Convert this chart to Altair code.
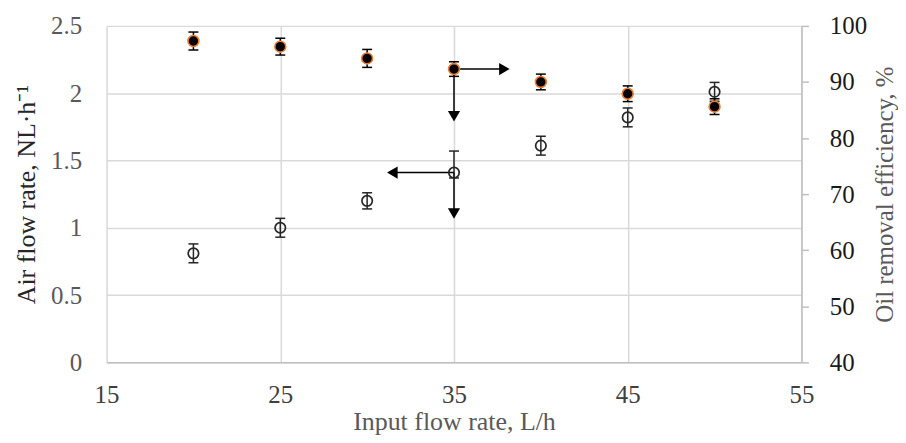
import altair as alt
import pandas as pd

# ---- data ----
flow = [20, 25, 30, 35, 40, 45, 50]
air_rate = [0.81, 1.00, 1.20, 1.41, 1.61, 1.82, 2.01]
air_err_low = [0.07, 0.07, 0.06, 0.04, 0.07, 0.07, 0.07]
air_err_high = [0.07, 0.07, 0.06, 0.16, 0.07, 0.07, 0.07]
efficiency = [97.3, 96.3, 94.2, 92.3, 90.0, 87.9, 85.6]
eff_err = [1.6, 1.5, 1.6, 1.3, 1.4, 1.4, 1.4]

x_ticks = [15, 25, 35, 45, 55]
air_ticks = [0, 0.5, 1, 1.5, 2, 2.5]
eff_ticks = [40, 50, 60, 70, 80, 90, 100]

# annotation arrows, in data coordinates
arrow_start_x = 35
air_arrow_y = 1.41
air_arrow_ends_x = [31.45, 35]
air_arrow_ends_y = [1.41, 1.106]
eff_arrow_y = 92.3
eff_arrow_ends_x = [37.9, 35]
eff_arrow_ends_y = [92.3, 83.9]

FONT = "Liberation Serif"
FS = 25
TFS = 26

air_df = pd.DataFrame({
    "flow": flow,
    "air": air_rate,
    "lo": [v - e for v, e in zip(air_rate, air_err_low)],
    "hi": [v + e for v, e in zip(air_rate, air_err_high)],
})
eff_df = pd.DataFrame({
    "flow": flow,
    "eff": efficiency,
    "lo": [v - e for v, e in zip(efficiency, eff_err)],
    "hi": [v + e for v, e in zip(efficiency, eff_err)],
})
air_arrows = pd.DataFrame({
    "x": [arrow_start_x, arrow_start_x],
    "x2": air_arrow_ends_x,
    "y": [air_arrow_y, air_arrow_y],
    "y2": air_arrow_ends_y,
    "dir": ["left", "down"],
})
eff_arrows = pd.DataFrame({
    "x": [arrow_start_x, arrow_start_x],
    "x2": eff_arrow_ends_x,
    "y": [eff_arrow_y, eff_arrow_y],
    "y2": eff_arrow_ends_y,
    "dir": ["right", "down"],
})

W, H = 698, 338

x_scale = alt.Scale(domain=[15, 55], nice=False, zero=False)
x_axis = alt.Axis(
    values=x_ticks, grid=True, gridColor="#d9d9d9", gridWidth=1.5,
    domain=True, domainColor="#bfbfbf", domainWidth=1.5, ticks=False,
    labelFlush=False, labelOverlap=False, labelPadding=20,
    labelFont=FONT, labelFontSize=FS, labelColor="#404040",
    title="Input flow rate, L/h", titleFont=FONT, titleFontSize=TFS,
    titleFontWeight="normal", titleColor="#595959",
    titleX=W / 2, titleY=67, titleBaseline="alphabetic", titleAlign="center",
)

air_scale = alt.Scale(domain=[0, 2.5], nice=False, zero=False)
air_axis = alt.Axis(
    values=air_ticks, format="~g", grid=True, gridColor="#d9d9d9", gridWidth=1.5,
    domain=False, ticks=False, labelPadding=25,
    labelFont=FONT, labelFontSize=FS, labelColor="#595959",
    title="Air flow rate, NL·h⁻¹", titleFont=FONT, titleFontSize=TFS,
    titleFontWeight="normal", titleColor="#262626",
    titleAngle=270, titleX=-80, titleY=H / 2, titleBaseline="middle", titleAlign="center",
)

eff_scale = alt.Scale(domain=[40, 100], nice=False, zero=False)
eff_axis = alt.Axis(
    orient="right", values=eff_ticks, grid=False,
    domain=True, domainColor="#bfbfbf", domainWidth=1.5,
    ticks=True, tickColor="#bfbfbf", tickSize=7, tickWidth=1.5, labelPadding=21,
    labelFont=FONT, labelFontSize=FS, labelColor="#1a1a1a",
    title="Oil removal efficiency, %", titleFont=FONT, titleFontSize=25,
    titleFontWeight="normal", titleColor="#595959",
    titleAngle=270, titleX=83, titleY=H / 2, titleBaseline="middle", titleAlign="center",
)

def X(field):
    return alt.X(f"{field}:Q", scale=x_scale, axis=x_axis)

def YA(field):
    return alt.Y(f"{field}:Q", scale=air_scale, axis=air_axis)

def YE(field):
    return alt.Y(f"{field}:Q", scale=eff_scale, axis=eff_axis)

# ---- left-axis group: air flow rate ----
air_base = alt.Chart(air_df)
air_err = air_base.mark_rule(color="#262626", strokeWidth=1.5).encode(
    x=X("flow"), y=YA("lo"), y2="hi")
air_cap_lo = air_base.mark_tick(orient="horizontal", color="#262626", thickness=1.5,
                                size=10, opacity=1).encode(x=X("flow"), y=YA("lo"))
air_cap_hi = air_base.mark_tick(orient="horizontal", color="#262626", thickness=1.5,
                                size=10, opacity=1).encode(x=X("flow"), y=YA("hi"))
air_arrow_lines = alt.Chart(air_arrows).mark_rule(color="black", strokeWidth=1.5).encode(
    x=X("x"), x2="x2", y=YA("y"), y2="y2")
air_pts = air_base.mark_point(shape="circle", filled=False, size=110, stroke="#262626",
                              strokeWidth=1.7, opacity=1).encode(x=X("flow"), y=YA("air"))
air_heads = alt.Chart(air_arrows).mark_point(filled=True, size=150, color="black",
                                             opacity=1).encode(
    x=X("x2"), y=YA("y2"),
    shape=alt.Shape("dir:N", scale=alt.Scale(domain=["left", "down", "right"],
                    range=["triangle-left", "triangle-down", "triangle-right"]), legend=None))

left = alt.layer(air_arrow_lines, air_err, air_cap_lo, air_cap_hi, air_pts, air_heads)

# ---- right-axis group: oil removal efficiency ----
eff_base = alt.Chart(eff_df)
eff_err_r = eff_base.mark_rule(color="black", strokeWidth=1.5).encode(
    x=X("flow"), y=YE("lo"), y2="hi")
eff_cap_lo = eff_base.mark_tick(orient="horizontal", color="black", thickness=1.5,
                                size=10, opacity=1).encode(x=X("flow"), y=YE("lo"))
eff_cap_hi = eff_base.mark_tick(orient="horizontal", color="black", thickness=1.5,
                                size=10, opacity=1).encode(x=X("flow"), y=YE("hi"))
eff_arrow_lines = alt.Chart(eff_arrows).mark_rule(color="black", strokeWidth=1.5).encode(
    x=X("x"), x2="x2", y=YE("y"), y2="y2")
eff_pts = eff_base.mark_circle(size=120, color="black", stroke="#ED7D31",
                               strokeWidth=1.6, opacity=1).encode(x=X("flow"), y=YE("eff"))
eff_heads = alt.Chart(eff_arrows).mark_point(filled=True, size=150, color="black",
                                             opacity=1).encode(
    x=X("x2"), y=YE("y2"),
    shape=alt.Shape("dir:N", scale=alt.Scale(domain=["left", "down", "right"],
                    range=["triangle-left", "triangle-down", "triangle-right"]), legend=None))

right = alt.layer(eff_arrow_lines, eff_err_r, eff_cap_lo, eff_cap_hi, eff_pts, eff_heads)

chart = alt.layer(left, right).resolve_scale(y="independent").properties(
    width=W, height=H,
    autosize=alt.AutoSizeParams(type="none"),
    padding={"left": 99, "top": 17, "right": 97, "bottom": 72},
    background="white",
).configure_view(stroke=None)

chart.save("out.html", embed_options={"renderer": "svg", "actions": False})
